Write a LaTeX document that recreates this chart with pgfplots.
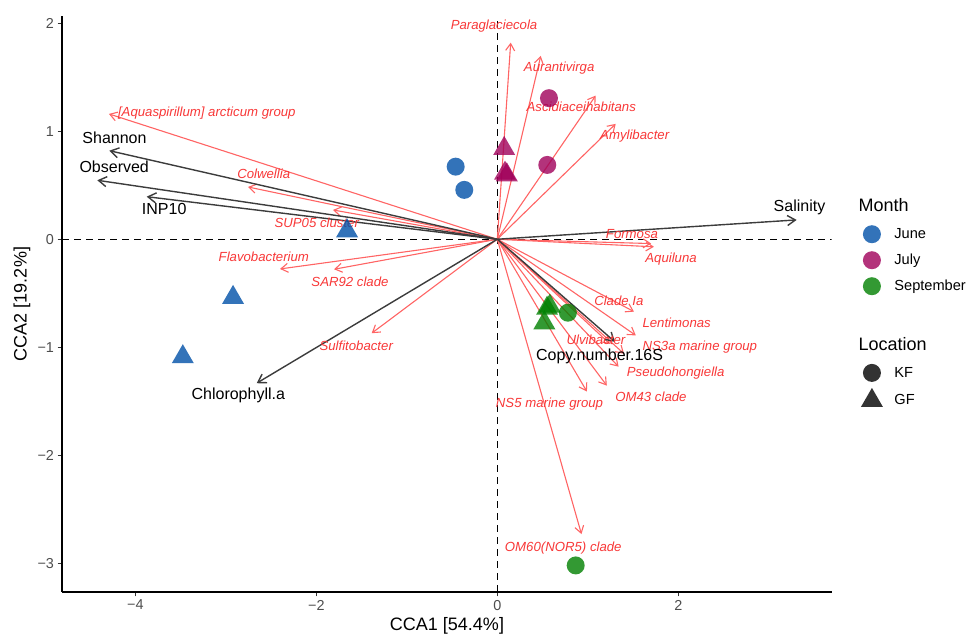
\documentclass[border=0pt]{standalone}
\usepackage{pgfplots}
\pgfplotsset{compat=1.18}
\usetikzlibrary{arrows.meta}
\usepackage{fontspec}
\setmainfont{Liberation Sans}

\definecolor{june}{RGB}{0,80,168}
\definecolor{july}{RGB}{160,0,90}
\definecolor{sept}{RGB}{0,128,0}
\definecolor{labred}{RGB}{248,56,56}
\definecolor{arrred}{RGB}{255,100,100}
\definecolor{envgray}{RGB}{60,60,60}
\definecolor{tickgray}{RGB}{77,77,77}
\definecolor{keygray}{RGB}{0,0,0}

\tikzset{
  taxon/.style={arrred, line width=1.1pt, -{Straight Barb[length=7pt,width=9pt]}},
  envar/.style={envgray, line width=1.4pt, -{Straight Barb[length=8pt,width=10pt]}},
  tlab/.style={text=labred, font=\fontsize{13.2}{13.2}\selectfont\itshape, inner sep=0pt},
  elab/.style={text=black, font=\fontsize{16}{16}\selectfont, inner sep=0pt},
}

\pgfplotsset{
  kfmark/.style={only marks, mark=*, mark size=9pt, mark options={draw opacity=0, fill opacity=0.8, fill=#1}},
  gfmark/.style={only marks, mark=triangle*, mark size=12.7pt, mark options={draw opacity=0, fill opacity=0.8, fill=#1}},
  keycode/.style={
    legend cell align=left,
    legend image code/.code={\draw[##1] plot coordinates {(0pt,0pt)}; \path[draw=none, fill=none] (-11pt,-11pt) rectangle (11pt,11pt);},
  },
}

\begin{document}
\begin{tikzpicture}
\useasboundingbox (0,0) rectangle (967pt,636pt);
\begin{axis}[
  at={(62pt,44pt)}, anchor=south west,
  width=769.7pt, height=576pt, scale only axis,
  xmin=-4.81, xmax=3.695, ymin=-3.266, ymax=2.067,
  axis x line*=bottom, axis y line*=left,
  axis line style={line width=1.2pt, black},
  xtick={-4,-2,0,2}, xticklabels={−4,−2,0,2},
  ytick={-3,-2,-1,0,1,2}, yticklabels={−3,−2,−1,0,1,2},
  tick align=outside, major tick length=4.5pt,
  tick style={line width=1.1pt, color=black!80},
  tick label style={font=\fontsize{14.4}{14.4}\selectfont, text=tickgray},
  keycode,
  legend style={draw=none, fill=none, inner sep=0pt, anchor=north west,
    at={(1.0377,0.6406)}, row sep=4pt, column sep=9.5pt,
    font=\fontsize{14.6}{14.6}\selectfont},
]
% legend keys (Month)
\addlegendimage{kfmark=june}\addlegendentry{June}
\addlegendimage{kfmark=july}\addlegendentry{July}
\addlegendimage{kfmark=sept}\addlegendentry{September}

% sample scores: June
\addplot[kfmark=june, forget plot] coordinates {(-0.460,0.672) (-0.365,0.457)};
\addplot[gfmark=june, forget plot] coordinates {(-1.660,0.077) (-2.920,-0.540) (-3.475,-1.089)};
% July
\addplot[kfmark=july, forget plot] coordinates {(0.571,1.306) (0.552,0.688)};
\addplot[gfmark=july, forget plot] coordinates {(0.076,0.839) (0.085,0.610) (0.105,0.595)};
% September
\addplot[kfmark=sept, forget plot] coordinates {(0.780,-0.680) (0.866,-3.020)};
\addplot[gfmark=sept, forget plot] coordinates {(0.550,-0.640) (0.580,-0.620) (0.520,-0.775)};

% zero lines
\addplot[black, line width=1.4pt, dash pattern=on 7pt off 5pt, forget plot] coordinates {(-4.81,0) (3.695,0)};
\addplot[black, line width=1.4pt, dash pattern=on 7pt off 5pt, forget plot] coordinates {(0,-3.266) (0,2.067)};

% taxa arrows
\addplot[taxon, forget plot] coordinates {(0,0) (-4.291,1.160)};
\addplot[taxon, forget plot] coordinates {(0,0) (-2.755,0.484)};
\addplot[taxon, forget plot] coordinates {(0,0) (-1.816,0.271)};
\addplot[taxon, forget plot] coordinates {(0,0) (-2.401,-0.275)};
\addplot[taxon, forget plot] coordinates {(0,0) (-1.804,-0.278)};
\addplot[taxon, forget plot] coordinates {(0,0) (-1.388,-0.870)};
\addplot[taxon, forget plot] coordinates {(0,0) (0.148,1.820)};
\addplot[taxon, forget plot] coordinates {(0,0) (0.480,1.697)};
\addplot[taxon, forget plot] coordinates {(0,0) (1.087,1.330)};
\addplot[taxon, forget plot] coordinates {(0,0) (1.308,1.068)};
\addplot[taxon, forget plot] coordinates {(0,0) (1.700,-0.040)};
\addplot[taxon, forget plot] coordinates {(0,0) (1.730,-0.070)};
\addplot[taxon, forget plot] coordinates {(0,0) (1.510,-0.670)};
\addplot[taxon, forget plot] coordinates {(0,0) (1.530,-0.890)};
\addplot[taxon, forget plot] coordinates {(0,0) (1.400,-1.060)};
\addplot[taxon, forget plot] coordinates {(0,0) (1.245,-0.970)};
\addplot[taxon, forget plot] coordinates {(0,0) (1.340,-1.180)};
\addplot[taxon, forget plot] coordinates {(0,0) (1.210,-1.355)};
\addplot[taxon, forget plot] coordinates {(0,0) (0.990,-1.410)};
\addplot[taxon, forget plot] coordinates {(0,0) (0.930,-2.730)};

% environmental arrows
\addplot[envar, forget plot] coordinates {(0,0) (-4.287,0.820)};
\addplot[envar, forget plot] coordinates {(0,0) (-4.420,0.546)};
\addplot[envar, forget plot] coordinates {(0,0) (-3.874,0.394)};
\addplot[envar, forget plot] coordinates {(0,0) (3.308,0.179)};
\addplot[envar, forget plot] coordinates {(0,0) (-2.659,-1.333)};
\addplot[envar, forget plot] coordinates {(0,0) (1.300,-0.950)};

% taxa labels
\node[tlab] at (axis cs:-3.210,1.166) {[Aquaspirillum] arcticum group};
\node[tlab] at (axis cs:-2.581,0.605) {Colwellia};
\node[tlab] at (axis cs:-1.995,0.154) {SUP05 cluster};
\node[tlab] at (axis cs:-2.580,-0.167) {Flavobacterium};
\node[tlab] at (axis cs:-1.628,-0.398) {SAR92 clade};
\node[tlab] at (axis cs:-1.559,-0.991) {Sulfitobacter};
\node[tlab] at (axis cs:-0.036,1.969) {Paraglaciecola};
\node[tlab] at (axis cs:0.684,1.589) {Aurantivirga};
\node[tlab] at (axis cs:0.928,1.228) {Ascidiaceihabitans};
\node[tlab] at (axis cs:1.518,0.959) {Amylibacter};
\node[tlab] at (axis cs:1.488,0.050) {Formosa};
\node[tlab] at (axis cs:1.920,-0.185) {Aquiluna};
\node[tlab] at (axis cs:1.343,-0.572) {Clade Ia};
\node[tlab] at (axis cs:1.982,-0.778) {Lentimonas};
\node[tlab] at (axis cs:2.238,-1.000) {NS3a marine group};
\node[tlab] at (axis cs:1.090,-0.930) {Ulvibacter};
\node[tlab] at (axis cs:1.971,-1.241) {Pseudohongiella};
\node[tlab] at (axis cs:1.698,-1.458) {OM43 clade};
\node[tlab] at (axis cs:0.577,-1.528) {NS5 marine group};
\node[tlab] at (axis cs:0.729,-2.861) {OM60(NOR5) clade};

% environmental labels
\node[elab] at (axis cs:-4.230,0.941) {Shannon};
\node[elab] at (axis cs:-4.233,0.667) {Observed};
\node[elab] at (axis cs:-3.681,0.278) {INP10};
\node[elab] at (axis cs:3.339,0.293) {Salinity};
\node[elab] at (axis cs:-2.862,-1.448) {Chlorophyll.a};
\node[elab] at (axis cs:1.130,-1.088) {Copy.number.16S};
\end{axis}

% second legend (Location)
\begin{axis}[
  at={(62pt,44pt)}, anchor=south west,
  width=769.7pt, height=576pt, scale only axis,
  hide axis, xmin=0, xmax=1, ymin=0, ymax=1,
  keycode,
  legend style={draw=none, fill=none, inner sep=0pt, anchor=north west,
    at={(1.0377,0.3998)}, row sep=4pt, column sep=9.5pt,
    font=\fontsize{14.6}{14.6}\selectfont},
]
\addlegendimage{kfmark=keygray}\addlegendentry{KF}
\addlegendimage{gfmark=keygray}\addlegendentry{GF}
\end{axis}

% titles
\node[anchor=west, inner sep=0pt, font=\fontsize{18}{18}\selectfont] at (858.3pt,431pt) {Month};
\node[anchor=west, inner sep=0pt, font=\fontsize{18}{18}\selectfont] at (858.3pt,291.7pt) {Location};
\node[font=\fontsize{18}{18}\selectfont] at (447pt,10pt) {CCA1 [54.4\%]};
\node[rotate=90, font=\fontsize{18}{18}\selectfont] at (22pt,332pt) {CCA2 [19.2\%]};
\end{tikzpicture}
\end{document}
